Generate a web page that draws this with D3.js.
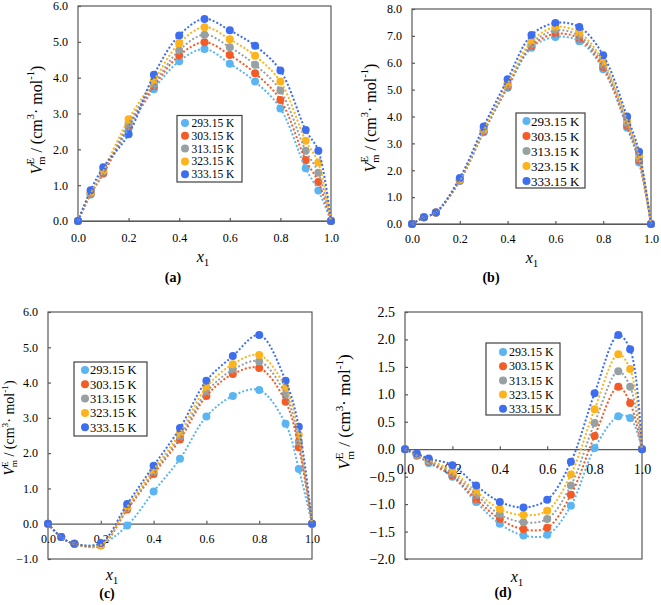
<!DOCTYPE html>
<html><head><meta charset="utf-8">
<script src="https://cdn.jsdelivr.net/npm/d3@7"></script>
<style>
body{margin:0;background:#fff}
svg{display:block}
</style>
</head><body>
<svg id="chart" width="661" height="605"></svg>
<script>
// ---------- data ----------
const xValues = [0, 0.05, 0.1, 0.2, 0.3, 0.4, 0.5, 0.6, 0.7, 0.8, 0.9, 0.95, 1.0];
const temperatures = ["293.15 K", "303.15 K", "313.15 K", "323.15 K", "333.15 K"];
const seriesColors = ["#5bb5f2", "#f35b27", "#97a1a4", "#fdb41c", "#3d6ef0"];
const xTicks = [0, 0.2, 0.4, 0.6, 0.8, 1.0];
const yTicksA = [0, 1, 2, 3, 4, 5, 6];
const yTicksB = [0, 1, 2, 3, 4, 5, 6, 7, 8];
const yTicksC = [-1, 0, 1, 2, 3, 4, 5, 6];
const yTicksD = [-2, -1.5, -1, -0.5, 0, 0.5, 1, 1.5, 2, 2.5];

// panel (a)
const a293 = [0, 0.74, 1.32, 2.58, 3.68, 4.46, 4.80, 4.39, 3.89, 3.14, 1.47, 0.85, 0];
const a303 = [0, 0.76, 1.34, 2.65, 3.76, 4.62, 4.99, 4.63, 4.12, 3.38, 1.70, 1.09, 0];
const a313 = [0, 0.78, 1.38, 2.73, 3.82, 4.76, 5.20, 4.85, 4.36, 3.64, 1.96, 1.35, 0];
const a323 = [0, 0.80, 1.42, 2.84, 3.92, 4.96, 5.41, 5.07, 4.61, 3.89, 2.24, 1.63, 0];
const a333 = [0, 0.86, 1.50, 2.42, 4.08, 5.18, 5.64, 5.32, 4.89, 4.20, 2.54, 1.96, 0];
// panel (b)
const b293 = [0, 0.25, 0.43, 1.60, 3.41, 5.07, 6.56, 6.96, 6.80, 5.76, 3.58, 2.29, 0];
const b303 = [0, 0.25, 0.43, 1.62, 3.45, 5.12, 6.62, 7.08, 6.90, 5.84, 3.66, 2.37, 0];
const b313 = [0, 0.25, 0.43, 1.64, 3.49, 5.17, 6.70, 7.20, 7.00, 5.94, 3.75, 2.45, 0];
const b323 = [0, 0.25, 0.43, 1.66, 3.53, 5.24, 6.80, 7.33, 7.12, 6.05, 3.85, 2.55, 0];
const b333 = [0, 0.25, 0.43, 1.71, 3.63, 5.39, 7.03, 7.48, 7.33, 6.28, 4.00, 2.69, 0];
// panel (c)
const c293 = [0, -0.38, -0.57, -0.58, -0.05, 0.91, 1.84, 3.04, 3.62, 3.79, 2.83, 1.55, 0];
const c303 = [0, -0.38, -0.57, -0.62, 0.40, 1.41, 2.39, 3.62, 4.24, 4.41, 3.46, 2.17, 0];
const c313 = [0, -0.38, -0.57, -0.60, 0.44, 1.47, 2.47, 3.73, 4.36, 4.60, 3.66, 2.33, 0];
const c323 = [0, -0.38, -0.57, -0.60, 0.48, 1.53, 2.57, 3.87, 4.52, 4.78, 3.85, 2.52, 0];
const c333 = [0, -0.38, -0.57, -0.55, 0.56, 1.64, 2.71, 4.05, 4.75, 5.35, 4.05, 2.75, 0];
// panel (d)
const d293 = [0, -0.12, -0.25, -0.50, -0.96, -1.36, -1.57, -1.56, -1.03, 0.02, 0.60, 0.57, 0];
const d303 = [0, -0.11, -0.23, -0.48, -0.91, -1.27, -1.46, -1.43, -0.83, 0.24, 1.14, 0.84, 0];
const d313 = [0, -0.10, -0.21, -0.44, -0.83, -1.19, -1.33, -1.27, -0.66, 0.48, 1.42, 1.14, 0];
const d323 = [0, -0.09, -0.19, -0.40, -0.77, -1.09, -1.20, -1.12, -0.46, 0.73, 1.73, 1.46, 0];
const d333 = [0, -0.08, -0.17, -0.29, -0.66, -0.96, -1.06, -0.92, -0.23, 1.02, 2.08, 1.82, 0];

// ---------- layout ----------
const panels = [
  {series:[a293,a303,a313,a323,a333], name:"(a)", yDomain:[0,6], yTicks:yTicksA,
   box:{l:78,r:331,t:6,b:221}, tickFs:12, xPad:12.5, yPad:10,
   ylab:{x:38,y:120,fs:16}, x1:{x:203,y:262}, tag:{x:173,y:282},
   leg:{x:177,y:115.5,w:65,h:66.5,row0:123,dy:12.8,mx:185,tx:191.5,fs:11.5}},
  {series:[b293,b303,b313,b323,b333], name:"(b)", yDomain:[0,8], yTicks:yTicksB,
   box:{l:412,r:651,t:9,b:224}, tickFs:12, xPad:10.5, yPad:10,
   ylab:{x:372,y:118,fs:16}, x1:{x:532,y:263}, tag:{x:491,y:282},
   leg:{x:516,y:113,w:69,h:75,row0:121,dy:15,mx:526.5,tx:531,fs:13}},
  {series:[c293,c303,c313,c323,c333], name:"(c)", yDomain:[-1,6], yTicks:yTicksC,
   box:{l:48,r:312,t:312,b:559}, tickFs:12, xPad:10.5, yPad:10,
   ylab:{x:11,y:428,fs:14}, x1:{x:112,y:580}, tag:{x:107,y:598},
   leg:{x:74,y:362,w:73,h:74,row0:370,dy:14.3,mx:85,tx:90,fs:12.5}},
  {series:[d293,d303,d313,d323,d333], name:"(d)", yDomain:[-2,2.5], yTicks:yTicksD,
   box:{l:405,r:642,t:312,b:559}, tickFs:14, xPad:15, yPad:10,
   ylab:{x:346,y:412,fs:17}, x1:{x:517,y:582}, tag:{x:503,y:597},
   leg:{x:486,y:343,w:74,h:72,row0:352,dy:14.2,mx:503,tx:509,fs:12}}
];

const svg = d3.select("#chart");
const axisColor = "#595959";
const FONT = '"Liberation Serif", "Times New Roman", Times, serif';
const R = 4;

function yLabel(g, cx, cy, fs) {
  const t = g.append("text")
    .attr("transform", `translate(${cx},${cy}) rotate(-90)`)
    .attr("text-anchor", "middle").attr("font-size", fs).attr("dominant-baseline","middle");
  const s = fs * 0.66;
  t.append("tspan").attr("font-style", "italic").text("V");
  t.append("tspan").attr("font-size", s).attr("dy", -fs * 0.36).text("E");
  t.append("tspan").attr("font-size", s).attr("dx", -fs * 0.42).attr("dy", fs * 0.68).text("m");
  t.append("tspan").attr("dy", -fs * 0.32).text(" / (cm");
  t.append("tspan").attr("font-size", s).attr("dy", -fs * 0.36).text("3");
  t.append("tspan").attr("dy", fs * 0.36).text("· mol");
  t.append("tspan").attr("font-size", s).attr("dy", -fs * 0.36).text("-1");
  t.append("tspan").attr("dy", fs * 0.36).text(")");
}

panels.forEach(p => {
  const g = svg.append("g");
  const x = d3.scaleLinear().domain([0, 1]).range([p.box.l, p.box.r]);
  const y = d3.scaleLinear().domain(p.yDomain).range([p.box.b, p.box.t]);

  // frame
  g.append("rect").attr("x", p.box.l).attr("y", p.box.t)
    .attr("width", p.box.r - p.box.l).attr("height", p.box.b - p.box.t)
    .attr("fill", "none").attr("stroke", axisColor).attr("stroke-width", 1.2);

  // y axis
  const ya = g.append("g").attr("transform", `translate(${p.box.l},0)`)
    .call(d3.axisLeft(y).tickValues(p.yTicks).tickFormat(d3.format(".1f"))
      .tickSize(-3).tickPadding(p.yPad));
  ya.select(".domain").remove();
  ya.selectAll("line").attr("stroke", axisColor).attr("stroke-width", 1.2);
  ya.selectAll("text").attr("font-size", p.tickFs);

  // x axis (at y = 0)
  const y0 = y(0);
  const xa = g.append("g").attr("transform", `translate(0,${y0})`)
    .call(d3.axisBottom(x).tickValues(xTicks).tickFormat(d3.format(".1f"))
      .tickSize(-3).tickPadding(p.xPad));
  xa.select(".domain").attr("stroke", axisColor).attr("stroke-width", 1.2);
  xa.selectAll("line").attr("stroke", axisColor).attr("stroke-width", 1.2);
  xa.selectAll("text").attr("font-size", p.tickFs);

  // series
  const line = d3.line().x(d => x(d[0])).y(d => y(d[1]))
    .curve(d3.curveCatmullRom.alpha(0.5));
  p.series.forEach((vals, i) => {
    const pts = xValues.map((xv, k) => [xv, vals[k]]);
    g.append("g").selectAll("circle").data(pts).join("circle")
      .attr("cx", d => x(d[0])).attr("cy", d => y(d[1])).attr("r", R)
      .attr("fill", seriesColors[i]);
  });
  p.series.forEach((vals, i) => {
    const pts = xValues.map((xv, k) => [xv, vals[k]]);
    g.append("path").datum(pts).attr("d", line).attr("fill", "none")
      .attr("stroke", seriesColors[i]).attr("stroke-width", 2)
      .attr("stroke-dasharray", "2,2");
  });

  // legend
  const L = p.leg;
  g.append("rect").attr("x", L.x).attr("y", L.y).attr("width", L.w).attr("height", L.h)
    .attr("fill", "#fff").attr("stroke", "#404040").attr("stroke-width", 1.2);
  temperatures.forEach((t, i) => {
    const cy = L.row0 + i * L.dy;
    g.append("circle").attr("cx", L.mx).attr("cy", cy).attr("r", R).attr("fill", seriesColors[i]);
    g.append("text").attr("x", L.tx).attr("y", cy).attr("dy", "0.35em")
      .attr("font-size", L.fs).text(t);
  });

  // labels
  yLabel(g, p.ylab.x, p.ylab.y, p.ylab.fs);
  const xl = g.append("text").attr("x", p.x1.x).attr("y", p.x1.y)
    .attr("text-anchor", "middle").attr("font-size", 16);
  xl.append("tspan").attr("font-style", "italic").text("x");
  xl.append("tspan").attr("font-size", 11).attr("dy", 4).text("1");
  g.append("text").attr("x", p.tag.x).attr("y", p.tag.y).attr("text-anchor", "middle")
    .attr("font-size", 14).attr("font-weight", "bold").text(p.name);
});

svg.selectAll("g").attr("font-family", null);
svg.selectAll("text").style("font-family", FONT).attr("fill", "#000");
</script>
</body></html>
